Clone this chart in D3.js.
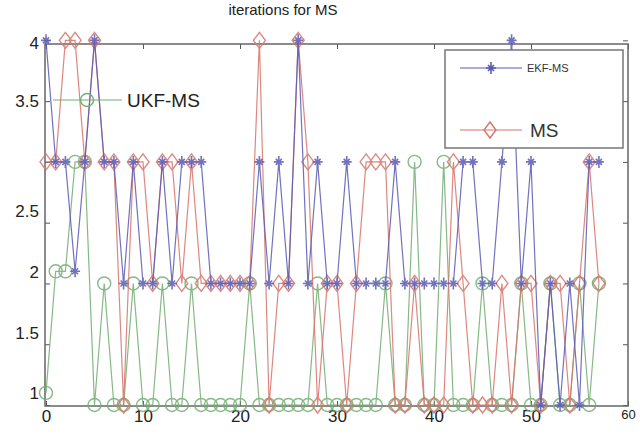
<!DOCTYPE html>
<html>
<head>
<meta charset="utf-8">
<script src="https://cdn.jsdelivr.net/npm/d3@7"></script>
<style>
  body { margin: 0; background: #fff; }
  svg { font-family: "Liberation Sans", Arial, sans-serif; }
</style>
</head>
<body>
<svg id="chart" width="640" height="434"></svg>
<script>
// iteration counts per frame
const frames = d3.range(0, 58);
const ekfMs = [4,3,3,2.1,3,4,3,3,2,3,2,2,3,2,3,3,3,2,2,2,2,2,3,2,3,2,4,2,3,2,2,3,2,2,2,2,3,2,2,2,2,2,2,3,3,2,2,3,4,2,3,1,2,1,2,1,3,3];
const ms    = [3,3,4,4,3,4,3,3,1,3,3,2,3,3,2,3,2,2,2,2,2,2,4,1,2,2,4,3,1,2,2,1,2,3,3,3,1,1,2,1,1,1,3,2,1,1,1,2,1,2,2,1,2,2,1,2,3,2];
const ukfMs = [1.1,2.1,2.1,3,3,1,2,1,1,2,1,1,2,1,1,2,1,1,1,1,1,2,1,1,1,1,1,1,2,1,1,1,1,1,1,2,1,1,3,1,1,3,1,1,1,2,1,1,1,2,1,1,2,1,1,2,1,2];
const xTicks = [0, 10, 20, 30, 40, 50, 60];
const yTicks = [1, 1.5, 2, 2.5, 3, 3.5, 4];

const svg = d3.select("#chart");
const mLeft = 45, mRight = 628, mTop = 44, mBottom = 406;

const x = d3.scaleLinear().domain([0, 60]).range([mLeft + 1, mRight]);
const y = d3.scaleLinear().domain([1, 3.97]).range([405, mTop]);

const colors = { ekf: "#5a5ab4", ms: "#d7746a", ukf: "#72ad72" };

// title fragment
svg.append("text")
  .attr("x", 283).attr("y", 15)
  .attr("text-anchor", "middle")
  .attr("font-size", 15)
  .attr("fill", "#222")
  .text("iterations for MS");

// axes
const xAxis = d3.axisBottom(x).tickValues(xTicks).tickSize(-5).tickPadding(4);
const gx = svg.append("g").attr("transform", `translate(0,${mBottom})`).call(xAxis);
gx.selectAll("text").attr("font-size", d => d === 60 ? 13 : 17).attr("fill", "#222");

const yAxis = d3.axisLeft(y).tickValues(yTicks).tickSize(-5).tickPadding(6)
  .tickFormat(d => d === 3 ? "" : d);
const gy = svg.append("g").attr("transform", `translate(${mLeft},0)`).call(yAxis);
gy.selectAll("text").attr("font-size", 17).attr("fill", "#222")
  .attr("dy", d => (d < 3 ? "-0.36em" : d === 4 ? "0.5em" : "0.32em"));

svg.selectAll(".domain").remove();
svg.selectAll(".tick line").attr("stroke", "#555");

// right and top ticks
svg.append("g").attr("transform", `translate(${mRight},0)`)
  .call(d3.axisRight(y).tickValues(yTicks).tickSize(-5).tickFormat(""))
  .call(g => g.select(".domain").remove())
  .selectAll("line").attr("stroke", "#555");
svg.append("g").attr("transform", `translate(0,${mTop})`)
  .call(d3.axisTop(x).tickValues(xTicks).tickSize(-5).tickFormat(""))
  .call(g => g.select(".domain").remove())
  .selectAll("line").attr("stroke", "#555");

// frame
svg.append("rect")
  .attr("x", mLeft).attr("y", mTop)
  .attr("width", mRight - mLeft).attr("height", mBottom - mTop)
  .attr("fill", "none").attr("stroke", "#666").attr("stroke-width", 1.5);

const line = d3.line().x((d, i) => x(frames[i])).y(d => y(d));

function starMarker(g, cx, cy, color) {
  g.append("path")
    .attr("d", `M${cx - 5},${cy}H${cx + 5}M${cx},${cy - 6}V${cy + 6}M${cx - 3},${cy - 3}L${cx + 3},${cy + 3}M${cx - 3},${cy + 3}L${cx + 3},${cy - 3}`)
    .attr("stroke", color).attr("stroke-width", 1.6).attr("fill", "none");
}
function diamondMarker(g, cx, cy, color) {
  g.append("path")
    .attr("d", `M${cx},${cy - 8}L${cx + 6},${cy}L${cx},${cy + 8}L${cx - 6},${cy}Z`)
    .attr("stroke", color).attr("stroke-width", 1.4).attr("fill", "none");
}
function circleMarker(g, cx, cy, color) {
  g.append("circle").attr("cx", cx).attr("cy", cy).attr("r", 6.5)
    .attr("stroke", color).attr("stroke-width", 1.4).attr("fill", "none");
}

const series = [
  { name: "UKF-MS", values: ukfMs, color: colors.ukf, marker: circleMarker },
  { name: "MS", values: ms, color: colors.ms, marker: diamondMarker },
  { name: "EKF-MS", values: ekfMs, color: colors.ekf, marker: starMarker }
];

const plot = svg.append("g");
series.forEach(s => {
  const g = plot.append("g").attr("opacity", 0.85);
  g.append("path").datum(s.values)
    .attr("d", line)
    .attr("fill", "none")
    .attr("stroke", s.color)
    .attr("stroke-width", 1.2);
  s.values.forEach((v, i) => s.marker(g, x(frames[i]), y(v), s.color));
});

// legend box (EKF-MS, MS)
const lg = svg.append("g");
lg.append("rect")
  .attr("x", 445).attr("y", 50).attr("width", 178).attr("height", 98)
  .attr("fill", "#fff").attr("stroke", "#777").attr("stroke-width", 1.5);
lg.append("line").attr("x1", 460).attr("x2", 522).attr("y1", 68).attr("y2", 68)
  .attr("stroke", colors.ekf).attr("stroke-width", 1.2);
starMarker(lg, 491, 68, colors.ekf);
lg.append("text").attr("x", 527).attr("y", 72).attr("font-size", 11).attr("fill", "#333")
  .text("EKF-MS");
lg.append("line").attr("x1", 460).attr("x2", 522).attr("y1", 130).attr("y2", 130)
  .attr("stroke", colors.ms).attr("stroke-width", 1.2);
diamondMarker(lg, 490, 130, colors.ms);
lg.append("text").attr("x", 530).attr("y", 137).attr("font-size", 19).attr("fill", "#333")
  .text("MS");

// UKF-MS legend item
svg.append("line").attr("x1", 53).attr("x2", 122).attr("y1", 100).attr("y2", 100)
  .attr("stroke", colors.ukf).attr("stroke-width", 1.2);
circleMarker(svg, 87, 100, colors.ukf);
svg.append("text").attr("x", 127).attr("y", 107).attr("font-size", 19).attr("fill", "#222")
  .text("UKF-MS");
</script>
</body>
</html>
